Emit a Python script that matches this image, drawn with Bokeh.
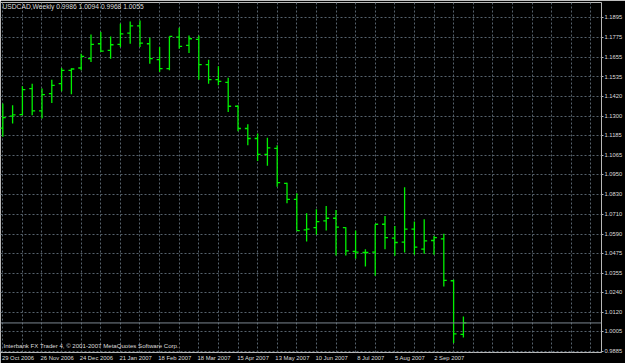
import numpy as np
from bokeh.plotting import figure
from bokeh.models import (Range1d, LinearAxis, FixedTicker, Grid, Label, Span,
                          ColumnDataSource)
from bokeh.embed import file_html
from bokeh.resources import INLINE

# ---------------- data (weekly USDCAD, 29 Oct 2006 .. 23 Sep 2007) ----------------
symbol_title = "USDCAD,Weekly  0.9986 1.0094 0.9968 1.0055"
copyright_text = "Interbank FX Trader 4, \u00a9 2001-2007 MetaQuotes Software Corp."

opens = [1.1227, 1.1299, 1.1309, 1.1465, 1.1331, 1.1435, 1.1495, 1.1575, 1.1589, 1.1645,
         1.1735, 1.1695, 1.1731, 1.1799, 1.1843, 1.1735, 1.1639, 1.1585, 1.1775, 1.1725,
         1.1761, 1.1609, 1.1519, 1.1503, 1.1359, 1.1225, 1.1165, 1.1069, 1.1105, 1.0895,
         1.0799, 1.0615, 1.0629, 1.0669, 1.0685, 1.0629, 1.0485, 1.0479, 1.0481, 1.0649,
         1.0565, 1.0541, 1.0619, 1.0499, 1.0551, 1.0561, 1.0309, 0.9986]
highs = [1.1375, 1.1365, 1.1479, 1.1495, 1.1465, 1.1519, 1.1589, 1.1587, 1.1675, 1.1791,
         1.1805, 1.1779, 1.1855, 1.1869, 1.1875, 1.1771, 1.1715, 1.1779, 1.1831, 1.1785,
         1.1785, 1.1639, 1.1599, 1.1531, 1.1365, 1.1251, 1.1195, 1.1169, 1.1125, 1.0899,
         1.0835, 1.0715, 1.0739, 1.0759, 1.0735, 1.0631, 1.0611, 1.0499, 1.0649, 1.0699,
         1.0639, 1.0871, 1.0665, 1.0679, 1.0579, 1.0591, 1.0315, 1.0094]
lows = [1.1175, 1.1255, 1.1305, 1.1305, 1.1285, 1.1379, 1.1449, 1.1431, 1.1575, 1.1625,
        1.1685, 1.1645, 1.1715, 1.1735, 1.1715, 1.1615, 1.1565, 1.1575, 1.1705, 1.1679,
        1.1519, 1.1495, 1.1485, 1.1325, 1.1209, 1.1125, 1.1029, 1.1001, 1.0875, 1.0775,
        1.0611, 1.0545, 1.0585, 1.0611, 1.0461, 1.0461, 1.0441, 1.0395, 1.0339, 1.0499,
        1.0459, 1.0479, 1.0465, 1.0471, 1.0465, 1.0275, 0.9935, 0.9968]
closes = [1.1291, 1.1307, 1.1459, 1.1331, 1.1429, 1.1485, 1.1575, 1.1583, 1.1659, 1.1731,
          1.1691, 1.1729, 1.1795, 1.1843, 1.1739, 1.1645, 1.1585, 1.1779, 1.1719, 1.1765,
          1.1609, 1.1519, 1.1509, 1.1359, 1.1225, 1.1165, 1.1069, 1.1109, 1.0899, 1.0799,
          1.0611, 1.0619, 1.0665, 1.0685, 1.0631, 1.0489, 1.0481, 1.0479, 1.0649, 1.0569,
          1.0539, 1.0619, 1.0511, 1.0549, 1.0569, 1.0311, 0.9989, 1.0055]
week_idx = list(range(len(opens)))

date_tick_idx = [0, 4, 8, 12, 16, 20, 24, 28, 32, 36, 40, 44]
date_tick_labels = ["29 Oct 2006", "26 Nov 2006", "24 Dec 2006", "21 Jan 2007",
                    "18 Feb 2007", "18 Mar 2007", "15 Apr 2007", "13 May 2007",
                    "10 Jun 2007", "8 Jul 2007", "5 Aug 2007", "2 Sep 2007"]

price_ticks = [1.1895, 1.1775, 1.1655, 1.1535, 1.1420, 1.1300, 1.1185, 1.1065, 1.0950,
               1.0830, 1.0710, 1.0590, 1.0475, 1.0355, 1.0240, 1.0120, 1.0005, 0.9885]
price_tick_labels = ["1.1895", "1.1775", "1.1655", "1.1535", "1.1420", "1.1300", "1.1185",
                     "1.1065", "1.0950", "1.0830", "1.0710", "1.0590", "1.0475", "1.0355",
                     "1.0240", "1.0120", "1.0005", "0.9885"]
current_price = closes[-1]
current_label = "1.0055"

# ---------------- styles ----------------
FONT = "Liberation Sans"
BAR_COLOR = "#00f000"
GRID_COLOR = "#56626d"
TEXT_COLOR = "#dcdcdc"
FRAME_COLOR = "#b8b8b8"
TICK_LEN = 0.3

x_start, x_end = -0.234, 61.09
y_start, y_end = 0.98772, 1.19832
label_shift = 1.55

p = figure(width=625, height=363, output_backend="svg", toolbar_location=None,
           x_range=Range1d(x_start, x_end), y_range=Range1d(y_start, y_end),
           x_axis_location=None, y_axis_location=None,
           background_fill_color="black", border_fill_color="black",
           min_border_left=0, min_border_top=2, min_border_right=23, min_border_bottom=10)
p.outline_line_color = FRAME_COLOR
p.outline_line_width = 1
p.grid.visible = False

# grids
p.add_layout(Grid(dimension=1, ticker=FixedTicker(ticks=price_ticks),
                  grid_line_color=GRID_COLOR, grid_line_dash="2 2", grid_line_width=1))
p.add_layout(Grid(dimension=0, ticker=FixedTicker(ticks=list(range(0, 62, 2))),
                  grid_line_color=GRID_COLOR, grid_line_dash="2 2", grid_line_width=1))

# right price axis
yaxis = LinearAxis(ticker=FixedTicker(ticks=price_ticks),
                   major_label_overrides={v: s for v, s in zip(price_ticks, price_tick_labels)},
                   major_tick_out=2, major_tick_in=0, minor_tick_out=0, minor_tick_in=0,
                   major_tick_line_color=FRAME_COLOR, axis_line_color=None,
                   major_label_standoff=1, major_label_text_color=TEXT_COLOR,
                   major_label_text_font=FONT, major_label_text_font_size="5.8px")
p.add_layout(yaxis, "right")

# bottom date axis (labels left-aligned at the week: shifted range)
p.extra_x_ranges = {"lab": Range1d(x_start - label_shift, x_end - label_shift)}
xaxis = LinearAxis(x_range_name="lab", ticker=FixedTicker(ticks=date_tick_idx),
                   major_label_overrides={i: s for i, s in zip(date_tick_idx, date_tick_labels)},
                   major_tick_out=0, major_tick_in=0, minor_tick_out=0, minor_tick_in=0,
                   axis_line_color=None, major_label_standoff=2,
                   major_label_text_color=TEXT_COLOR, major_label_text_font=FONT,
                   major_label_text_font_size="5.9px")
p.add_layout(xaxis, "below")

# current price line
p.add_layout(Span(location=current_price, dimension="width", line_color="#7c8790", line_width=1))

# OHLC bars
x = np.array(week_idx, dtype=float)
src = ColumnDataSource(dict(x=x, xl=x - TICK_LEN, xr=x + TICK_LEN,
                            o=opens, h=highs, l=lows, c=closes))
p.segment(x0="x", y0="l", x1="x", y1="h", source=src, line_color=BAR_COLOR, line_width=1.3)
p.segment(x0="xl", y0="o", x1="x", y1="o", source=src, line_color=BAR_COLOR, line_width=1.3)
p.segment(x0="x", y0="c", x1="xr", y1="c", source=src, line_color=BAR_COLOR, line_width=1.3)

# texts
p.add_layout(Label(x=2, y=350, x_units="screen", y_units="screen", text=symbol_title,
                   text_font=FONT, text_font_size="6.7px", text_color=TEXT_COLOR,
                   text_baseline="top", text_align="left"))
p.add_layout(Label(x=3, y=4, x_units="screen", y_units="screen", text=copyright_text,
                   text_font=FONT, text_font_size="6.1px", text_color=TEXT_COLOR,
                   text_baseline="bottom", text_align="left"))
p.add_layout(Label(x=x_end, y=current_price, x_offset=1, text=current_label,
                   text_font=FONT, text_font_size="5.8px", text_color="black",
                   text_baseline="middle", text_align="left",
                   background_fill_color="white", border_line_color="#909090",
                   padding=1))

open("out.html", "w").write(file_html(p, INLINE))
